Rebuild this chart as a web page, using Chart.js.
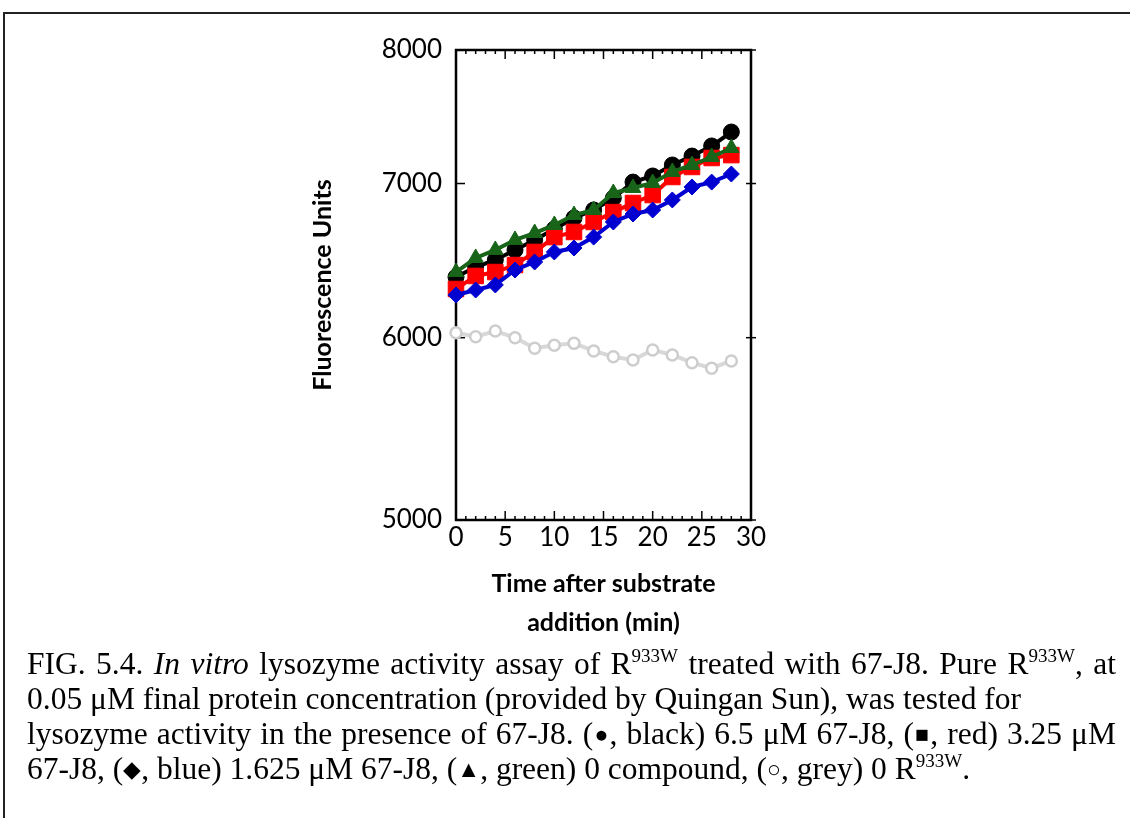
<!DOCTYPE html>
<html><head><meta charset="utf-8">
<script src="https://cdn.jsdelivr.net/npm/chart.js@4"></script>
<style>
html,body{margin:0;padding:0;background:#fff;width:1130px;height:818px;overflow:hidden;}
#frame{position:absolute;left:3px;top:12px;width:1140px;height:830px;border-top:2px solid #222;border-left:2px solid #222;}
#wrap{position:absolute;left:0;top:0;width:1130px;height:660px;}
#cap{position:absolute;left:27px;top:646px;font-family:"Liberation Serif","Times New Roman",serif;font-size:31.5px;line-height:35px;color:#000;white-space:nowrap;}
#cap div{height:35px;}
#cap .j{width:1089px;text-align:justify;text-align-last:justify;}
#cap sup{font-size:19px;line-height:0;vertical-align:0;position:relative;top:-12px;}
#cap .s{font-size:23px;vertical-align:0;position:relative;top:-2px;}
</style></head>
<body>
<div id="frame"></div>
<div id="wrap"><canvas id="c" width="1130" height="660"></canvas></div>
<div id="cap">
<div class="j">FIG. 5.4. <i>In vitro</i> lysozyme activity assay of R<sup>933W</sup> treated with 67-J8. Pure R<sup>933W</sup>, at</div>
<div>0.05 μM final protein concentration (provided by Quingan Sun), was tested for</div>
<div class="j">lysozyme activity in the presence of 67-J8. (<span class="s">●</span>, black) 6.5 μM 67-J8, (<span class="s">■</span>, red) 3.25 μM</div>
<div>67-J8, (<span class="s">◆</span>, blue) 1.625 μM 67-J8, (<span class="s">▲</span>, green) 0 compound, (<span class="s">○</span>, grey) 0 R<sup>933W</sup>.</div>
</div>
<script>
const times = [0,2,4,6,8,10,12,14,16,18,20,22,24,26,28];
const black6_5 = [6375,6439,6485,6550,6616,6689,6763,6817,6899,7010,7053,7131,7195,7268,7370];
const red3_25 = [6299,6382,6407,6452,6537,6635,6669,6736,6803,6865,6920,7046,7117,7181,7202];
const blue1_625 = [6262,6293,6325,6420,6472,6537,6563,6635,6736,6790,6817,6886,6976,7010,7067];
const green0compound = [6407,6498,6550,6616,6662,6716,6783,6817,6934,6969,7004,7082,7131,7188,7253];
const grey0R = [6030,6006,6040,6000,5937,5955,5966,5921,5887,5868,5927,5897,5852,5820,5862];
const yTicks = [5000,6000,7000,8000];
const xTicks = [0,5,10,15,20,25,30];
const xMinor = [0,1,2,3,4,5,6,7,8,9,10,11,12,13,14,15,16,17,18,19,20,21,22,23,24,25,26,27,28,29,30];

const pts = arr => arr.map((v,i)=>({x:times[i], y:v}));

const framePlugin = {
  id:'frame',
  beforeDatasetsDraw(chart){
    const {ctx, chartArea:a, scales:{x,y}} = chart;
    ctx.save();
    ctx.strokeStyle='#000';
    const line=(x1,y1,x2,y2)=>{ctx.beginPath();ctx.moveTo(x1,y1);ctx.lineTo(x2,y2);ctx.stroke();};
    ctx.lineWidth=1.5;
    xMinor.forEach(t=>{
      const px=x.getPixelForValue(t);
      const len = xTicks.includes(t)?9:4;
      line(px,a.bottom,px,a.bottom-len);
      line(px,a.top,px,a.top+len);
    });
    yTicks.forEach(v=>{
      const py=y.getPixelForValue(v);
      line(a.left,py,a.left+9,py);
      line(a.right-5,py,a.right+5,py);
    });
    ctx.lineWidth=2.5;
    ctx.strokeRect(a.left,a.top,a.right-a.left,a.bottom-a.top);
    ctx.restore();
  }
};

const tickFont = {family:'Lato', size:26};
const titleFont = {family:'Lato', size:25, weight:'bold'};

new Chart(document.getElementById('c'), {
  type:'line',
  data:{datasets:[
    {label:'0 compound', data:pts(green0compound), borderColor:'#186418', backgroundColor:'#186418', pointStyle:'triangle', pointRadius:9, borderWidth:4, pointBorderWidth:1, clip:false},
    {label:'1.625 μM 67-J8', data:pts(blue1_625), borderColor:'#0000d0', backgroundColor:'#0000d0', pointStyle:'rectRot', pointRadius:8, borderWidth:4, pointBorderWidth:1, clip:false},
    {label:'3.25 μM 67-J8', data:pts(red3_25), borderColor:'#ff0000', backgroundColor:'#ff0000', pointStyle:'rect', pointRadius:11, borderWidth:4, pointBorderWidth:1, clip:false},
    {label:'6.5 μM 67-J8', data:pts(black6_5), borderColor:'#000', backgroundColor:'#000', pointStyle:'circle', pointRadius:8, borderWidth:4, pointBorderWidth:1, clip:false},
    {label:'0 R933W', data:pts(grey0R), borderColor:'#d8d8d8', backgroundColor:'#fff', pointBorderColor:'#cdcdcd', pointStyle:'circle', pointRadius:5.5, borderWidth:4, pointBorderWidth:2.5, clip:false}
  ]},
  options:{
    responsive:false, animation:false,
    layout:{padding:{left:290, top:50, right:379, bottom:0}},
    plugins:{legend:{display:false}, tooltip:{enabled:false}},
    scales:{
      x:{type:'linear', min:0, max:30,
        afterBuildTicks:s=>{s.ticks = xTicks.map(v=>({value:v}));},
        ticks:{font:tickFont, color:'#000', padding:2, maxRotation:0, autoSkip:false},
        grid:{display:false, drawTicks:false}, border:{display:false},
        title:{display:true, text:['Time after substrate','addition (min)'], font:{family:'Lato', size:25, weight:'bold', lineHeight:1.56}, color:'#000', padding:{top:0,bottom:18}},
        afterFit:s=>{s.height=140;}
      },
      y:{type:'logarithmic', min:5000, max:8000,
        afterBuildTicks:s=>{s.ticks = yTicks.map(v=>({value:v}));},
        ticks:{font:tickFont, color:'#000', padding:14, callback:v=>String(v)},
        grid:{display:false, drawTicks:false}, border:{display:false},
        title:{display:true, text:'Fluorescence Units', font:titleFont, color:'#000', padding:{top:18,bottom:0}},
        afterFit:s=>{s.width=166;}
      }
    }
  },
  plugins:[framePlugin]
});
</script>
</body></html>
